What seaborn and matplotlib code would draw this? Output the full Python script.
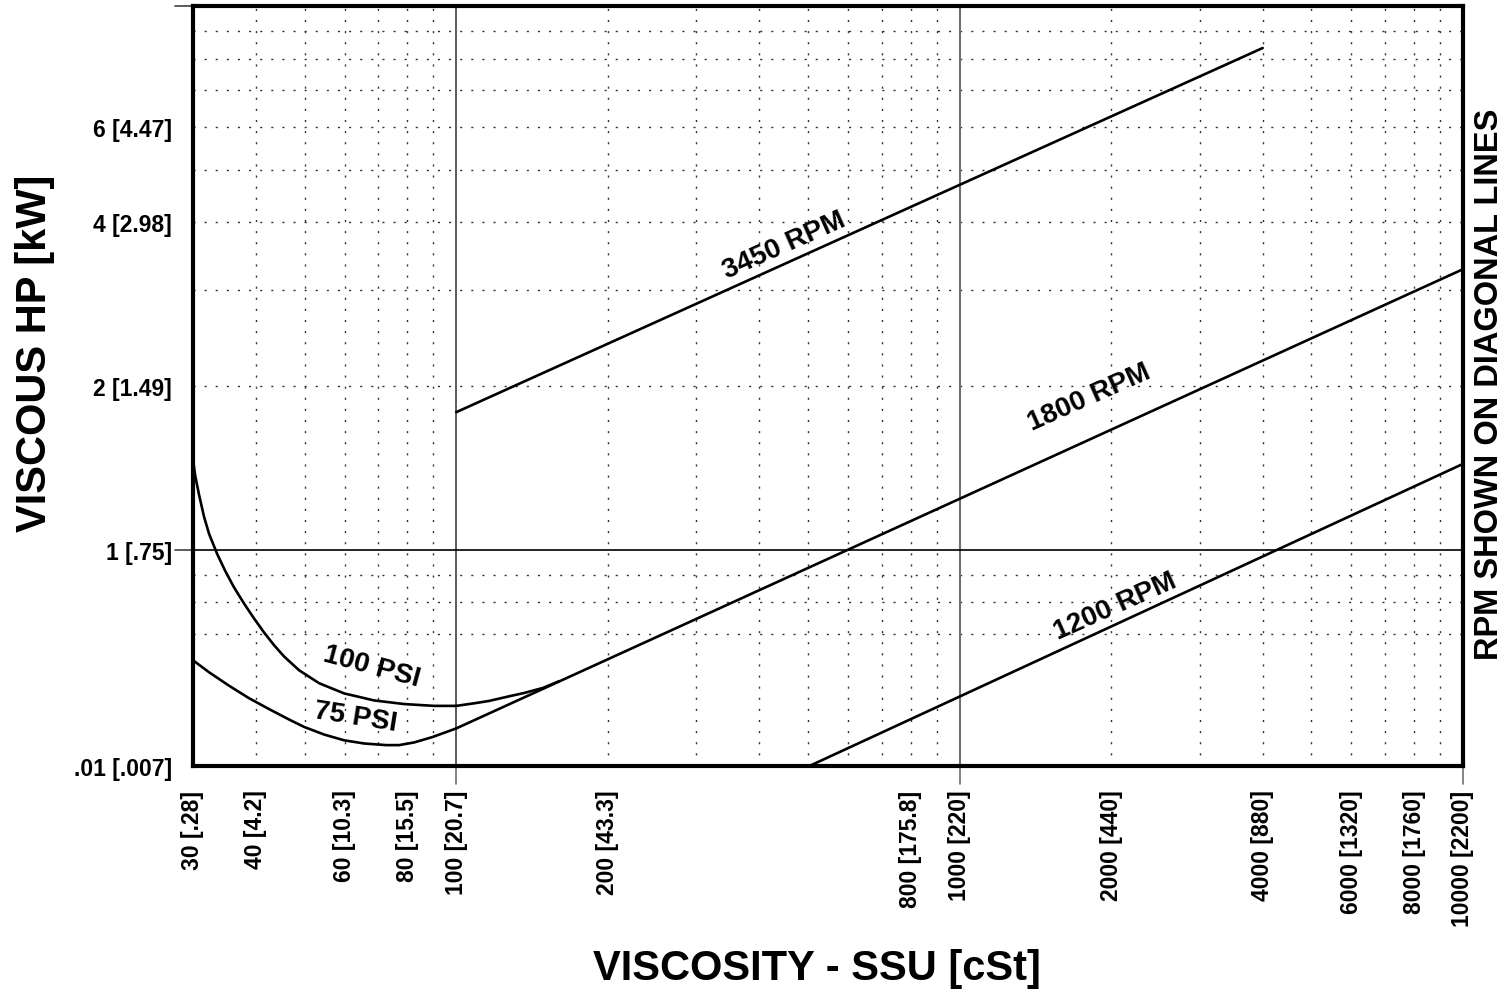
import numpy as np
import pandas as pd
import matplotlib
matplotlib.use('Agg')
import matplotlib.pyplot as plt
import matplotlib.transforms as mtransforms
from matplotlib.ticker import NullFormatter
import seaborn as sns

sns.set_style('white', {'text.color': 'black', 'axes.labelcolor': 'black',
                        'xtick.color': 'black', 'ytick.color': 'black'})
plt.rcParams['font.family'] = ['Liberation Sans', 'DejaVu Sans']
plt.rcParams['font.weight'] = 'bold'

# 曲线数据 (SSU, HP)
psi100_ssu = [30, 30.28, 30.84, 31.55, 32.28, 33.49, 34.74, 36.20, 37.89, 39.67, 41.53, 43.48,
              45.51, 48.74, 53.41, 59.88, 68.71, 78.81, 90.43, 100, 109.1, 116.3, 128.1, 136.5,
              148.9, 160.2]
psi100_hp = [1.469, 1.373, 1.262, 1.150, 1.070, 0.983, 0.915, 0.852, 0.796, 0.747, 0.704, 0.667,
             0.636, 0.600, 0.568, 0.544, 0.528, 0.520, 0.516, 0.516, 0.522, 0.527, 0.538, 0.545,
             0.557, 0.573]

psi75_ssu = [30, 32.28, 35.38, 38.77, 42.49, 46.56, 49.87, 54.65, 59.88, 65.64, 72.57, 77.02,
             82.50, 89.58, 100]
psi75_hp = [0.626, 0.595, 0.562, 0.533, 0.509, 0.487, 0.472, 0.457, 0.446, 0.440, 0.437, 0.437,
            0.442, 0.452, 0.469]

rpm3450_ssu = [100, 4000]
rpm3450_hp = [1.79, 8.37]
rpm1800_ssu = [100, 10000]
rpm1800_hp = [0.469, 3.28]
rpm1200_ssu = [503, 10000]
rpm1200_hp = [0.40, 1.438]

# 刻度
x_major = [30, 40, 60, 80, 100, 200, 800, 1000, 2000, 4000, 6000, 8000, 10000]
x_labels = ['30 [.28]', '40 [4.2]', '60 [10.3]', '80 [15.5]', '100 [20.7]', '200 [43.3]',
            '800 [175.8]', '1000 [220]', '2000 [440]', '4000 [880]', '6000 [1320]',
            '8000 [1760]', '10000 [2200]']
x_minor = [50, 70, 90, 300, 400, 500, 600, 700, 900, 3000, 5000, 7000, 9000]
y_major = [0.4, 1, 2, 4, 6]
y_labels = ['.01 [.007]', '1 [.75]', '2 [1.49]', '4 [2.98]', '6 [4.47]']
y_minor = [0.7, 0.8, 0.9, 3, 5, 7, 8, 9, 10]

# 标注
curve_labels = [
    ('3450 RPM', 449, 3.64, 24),
    ('1800 RPM', 1811, 1.91, 24),
    ('1200 RPM', 2033, 0.789, 24),
    ('100 PSI', 67.8, 0.610, -15),
    ('75 PSI', 63.2, 0.494, -9),
]

fig = plt.figure(figsize=(15.06, 9.95), dpi=100)
ax = fig.add_axes([193 / 1506, 1 - 767 / 995, (1463 - 193) / 1506, (767 - 7) / 995])
ax.set_xscale('log')
ax.set_yscale('log')
ax.set_xlim(30, 10000)
ax.set_ylim(0.4, 10)

dot = (0, (1.5, 6.5))
for x in x_major + x_minor:
    if x in (30, 100, 1000, 10000):
        continue
    ax.axvline(x, color='#333333', lw=1, ls=dot, zorder=1)
for y in y_minor + y_major:
    if y in (0.4, 1, 10):
        continue
    ax.axhline(y, color='#333333', lw=1, ls=dot, zorder=1)
ax.axvline(100, color='#404040', lw=1.2, zorder=1)
ax.axvline(1000, color='#707070', lw=1.5, zorder=1)
ax.axhline(1, color='black', lw=1.2, zorder=1)

curves = [
    (psi100_ssu, psi100_hp),
    (psi75_ssu, psi75_hp),
    (rpm3450_ssu, rpm3450_hp),
    (rpm1800_ssu, rpm1800_hp),
    (rpm1200_ssu, rpm1200_hp),
]
for xs, ys in curves:
    sns.lineplot(x=xs, y=ys, ax=ax, color='black', lw=1.9, sort=False, estimator=None, zorder=3)

for txt, x, y, rot in curve_labels:
    ax.text(x, y, txt, rotation=rot, rotation_mode='anchor', ha='center', va='center',
            fontsize=20, fontweight='bold', color='black', zorder=4)

ax.set_xticks(x_major, x_labels, rotation=90)
ax.set_xticks(x_minor, minor=True)
ax.xaxis.set_minor_formatter(NullFormatter())
ax.set_yticks(y_major, y_labels)
ax.set_yticks(y_minor, minor=True)
ax.yaxis.set_minor_formatter(NullFormatter())
ax.tick_params(which='both', direction='out', color='#808080', labelcolor='black', length=6, width=1)
ax.tick_params(axis='x', which='major', labelsize=16.5, pad=11)
ax.tick_params(axis='y', which='major', labelsize=16.5, pad=9)
for lab in ax.get_xticklabels() + ax.get_yticklabels():
    lab.set_fontweight('bold')

# 长刻度
bx = mtransforms.blended_transform_factory(ax.transData, ax.transAxes)
for x in (100, 1000, 10000):
    ax.plot([x, x], [0, -0.024], transform=bx, color='#707070', lw=1.2, clip_on=False)
by = mtransforms.blended_transform_factory(ax.transAxes, ax.transData)
for y in (1, 10):
    ax.plot([-0.014, 0], [y, y], transform=by, color='#404040', lw=1.2, clip_on=False)

for s in ax.spines.values():
    s.set_visible(True)
    s.set_color('black')
    s.set_linewidth(3)

fig.text(817 / 1506, 1 - 969 / 995, 'VISCOSITY - SSU [cSt]', ha='center', va='center',
         fontsize=30, fontweight='bold', color='black')
fig.text(35 / 1506, 1 - 353 / 995, 'VISCOUS HP [kW]', ha='center', va='center',
         rotation=90, fontsize=30, fontweight='bold', color='black')
fig.text(1490 / 1506, 1 - 384 / 995, 'RPM SHOWN ON DIAGONAL LINES', ha='center', va='center',
         rotation=90, fontsize=23.5, fontweight='bold', color='black')

fig.savefig('out.png', dpi=100)
